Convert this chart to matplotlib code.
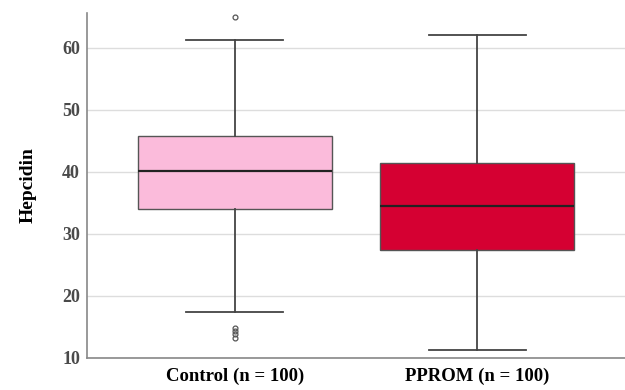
import matplotlib.pyplot as plt

# Box-plot summary values
groups = ["Control (n = 100)", "PPROM (n = 100)"]
medians = [40.1, 34.4]
q1 = [34.0, 27.3]
q3 = [45.7, 41.4]
whisker_low = [17.4, 11.3]
whisker_high = [61.2, 62.0]
outliers = [[65.0, 14.8, 14.3, 13.8, 13.2], []]

colors = ["#FBBBDB", "#D50032"]

plt.rcParams["font.family"] = ["Liberation Serif", "DejaVu Serif"]

fig = plt.figure(figsize=(6.25, 3.9), dpi=100)
ax = fig.add_axes([0.139, 0.083, 0.861, 0.884])

stats = []
for i, name in enumerate(groups):
    stats.append({
        "label": name,
        "med": medians[i],
        "q1": q1[i],
        "q3": q3[i],
        "whislo": whisker_low[i],
        "whishi": whisker_high[i],
        "fliers": outliers[i],
    })

bp = ax.bxp(
    stats, positions=[1, 2], widths=0.8, patch_artist=True,
    boxprops=dict(edgecolor="#555555", linewidth=1.0),
    medianprops=dict(color="#222222", linewidth=1.6),
    whiskerprops=dict(color="#444444", linewidth=1.3),
    capprops=dict(color="#444444", linewidth=1.3),
    capwidths=0.4,
    flierprops=dict(marker="o", markersize=3.5, markerfacecolor="none",
                    markeredgecolor="#555555", markeredgewidth=0.9),
    zorder=3,
)
for patch, c in zip(bp["boxes"], colors):
    patch.set_facecolor(c)

ax.set_xlim(0.39, 2.61)
ax.set_ylim(10, 65.6)
ax.set_yticks([10, 20, 30, 40, 50, 60])
ax.yaxis.grid(True, color="#dddddd", linewidth=1.0, zorder=0)
ax.set_axisbelow(True)

for s in ["top", "right"]:
    ax.spines[s].set_visible(False)
for s in ["left", "bottom"]:
    ax.spines[s].set_color("#888888")
    ax.spines[s].set_linewidth(1.2)

ax.tick_params(axis="both", length=0)
ax.tick_params(axis="y", labelsize=13, colors="#4a4a4a", pad=5)
ax.tick_params(axis="x", labelsize=13.5, pad=7)
for lbl in ax.get_xticklabels():
    lbl.set_fontweight("bold")
for lbl in ax.get_yticklabels():
    lbl.set_fontweight("bold")
ax.set_ylabel("Hepcidin", fontsize=14, fontweight="bold", labelpad=18)

fig.savefig("out.png", dpi=100, facecolor="white")
